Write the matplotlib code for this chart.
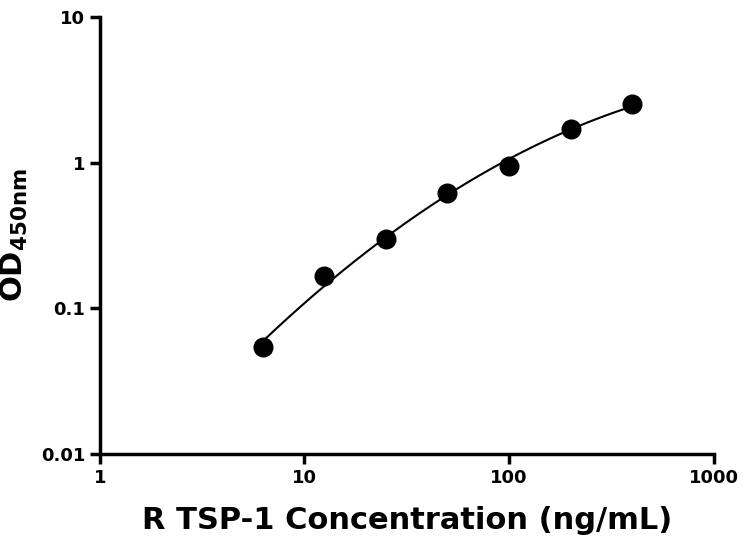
import matplotlib
matplotlib.use("Agg")
import matplotlib.pyplot as plt
import numpy as np

conc = [6.25, 12.5, 25, 50, 100, 200, 400]
od = [0.054, 0.167, 0.30, 0.62, 0.95, 1.70, 2.53]
xticks = [1, 10, 100, 1000]
xticklabels = ["1", "10", "100", "1000"]
yticks = [0.01, 0.1, 1, 10]
yticklabels = ["0.01", "0.1", "1", "10"]

fig = plt.figure(figsize=(7.45, 5.5), dpi=100)
ax = fig.add_axes([0.134, 0.1745, 0.824, 0.7945])
lx, ly = np.log10(conc), np.log10(od)
c = np.polyfit(lx, ly, 2)
xs = np.linspace(lx[0], lx[-1], 200)
ax.plot(10**xs, 10**np.polyval(c, xs), color="black", lw=1.5)
ax.scatter(conc, od, s=180, color="black", zorder=3)
ax.set_xscale("log"); ax.set_yscale("log")
ax.set_xlim(1, 1000); ax.set_ylim(0.01, 10)
ax.set_xticks(xticks); ax.set_xticklabels(xticklabels)
ax.set_yticks(yticks); ax.set_yticklabels(yticklabels)
ax.minorticks_off()
for s in ["top", "right"]:
    ax.spines[s].set_visible(False)
for s in ["left", "bottom"]:
    ax.spines[s].set_linewidth(2.5)
ax.tick_params(width=2.5, length=7, labelsize=13)
for l in ax.get_xticklabels() + ax.get_yticklabels():
    l.set_fontweight("bold")
ax.set_xlabel("R TSP-1 Concentration (ng/mL)", fontsize=22, fontweight="bold", labelpad=14)
ax.set_ylabel(r"OD$_{\mathbf{450nm}}$", fontsize=22, fontweight="bold", labelpad=8)
fig.savefig("out.png", dpi=100)
